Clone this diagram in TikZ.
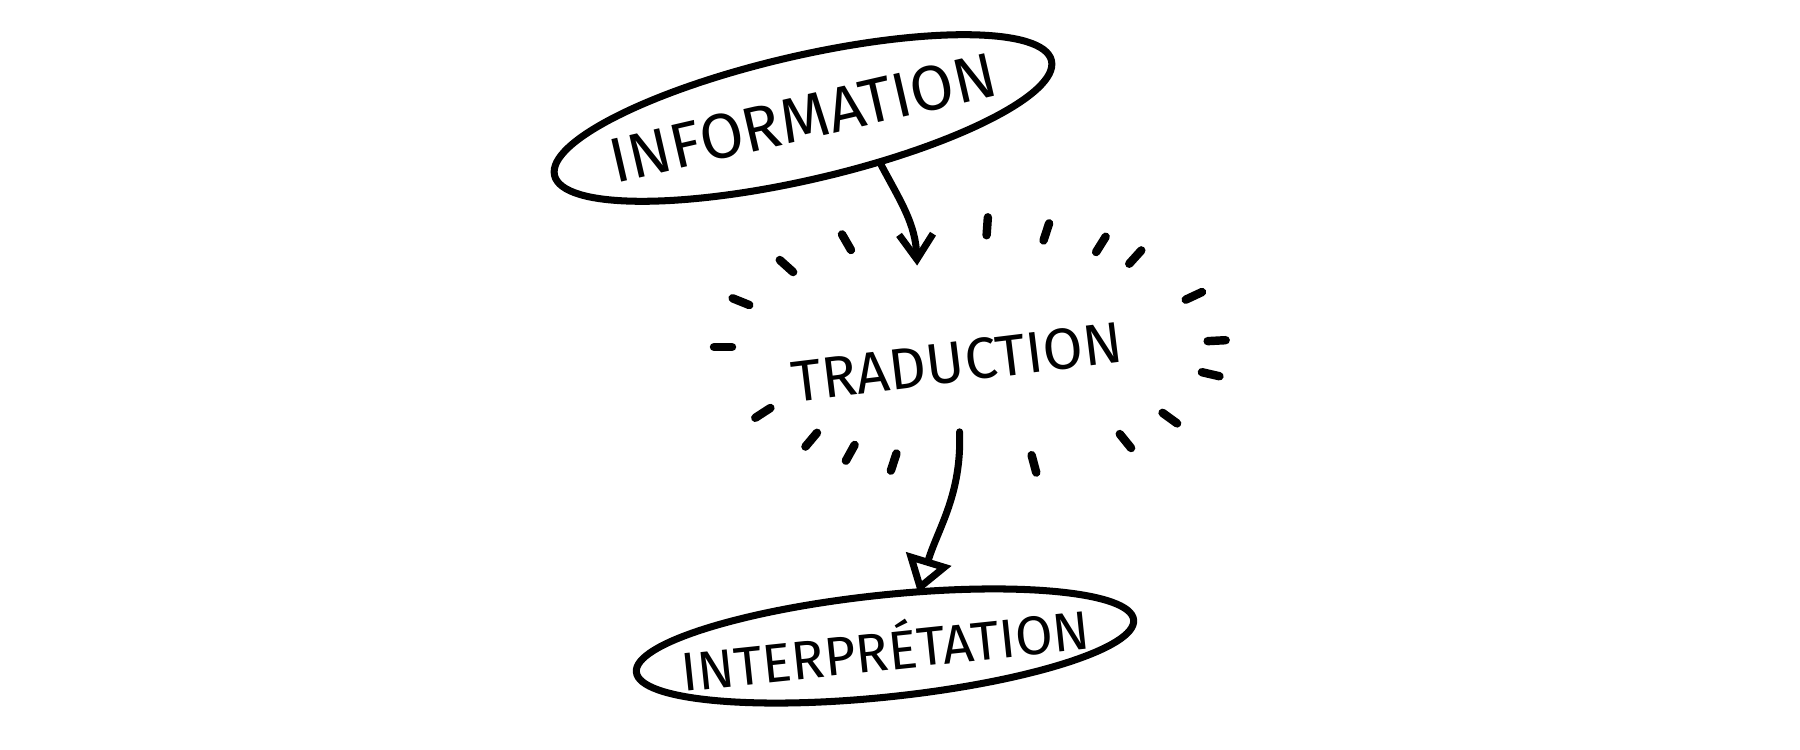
\documentclass[tikz,border=0pt]{standalone}
\usepackage{fontspec}
\setmainfont{Fira Sans}
\usetikzlibrary{arrows.meta,shapes.geometric}
\begin{document}
\begin{tikzpicture}[line join=round, line cap=round, line width=2pt,
	bulle/.style={draw, ellipse, inner sep=0pt},
	halo/.style={ellipse, inner sep=0pt, outer sep=0pt, minimum width=3.7cm, minimum height=1.7cm},
	trait/.style={line width=2.4pt},
	mot/.style={font=\fontsize{#1}{#1}\selectfont}]
	\useasboundingbox (0,0) rectangle (18,7.5);
	\node[bulle, mot=18, rotate=13, minimum width=5.1cm, minimum height=1.24cm] (info) at (8.03,6.32) {\makebox[0pt]{INFORMATION}};
	\node[halo] (trad) at (9.70,4.03) {};
	\node[mot=16.5, rotate=7] (tradtxt) at (9.57,3.88) {TRADUCTION};
	\node[bulle, mot=15.5, rotate=6, minimum width=5cm, minimum height=1.02cm] (interp) at (8.85,1.04) {\makebox[0pt]{INTERPRÉTATION}};
	% les traits autour de la traduction
	\foreach \t in {3,25,48,58,72,86,120,138,158,180,213,230,241,252,285,309,324,347}
	\draw[trait, shift={(trad)}] (\t:2.38 and 1.12)--(\t:2.56 and 1.30);
	\draw[-{Straight Barb[length=2.5mm,width=3.4mm]}] (info.-44) to[out=-62,in=92] (trad.123);
	\draw[-{Triangle[open,length=3.6mm,width=4.6mm]}, shorten >=-1.5pt] (trad.263) to[out=-88,in=73] (interp.53);
\end{tikzpicture}
\end{document}
